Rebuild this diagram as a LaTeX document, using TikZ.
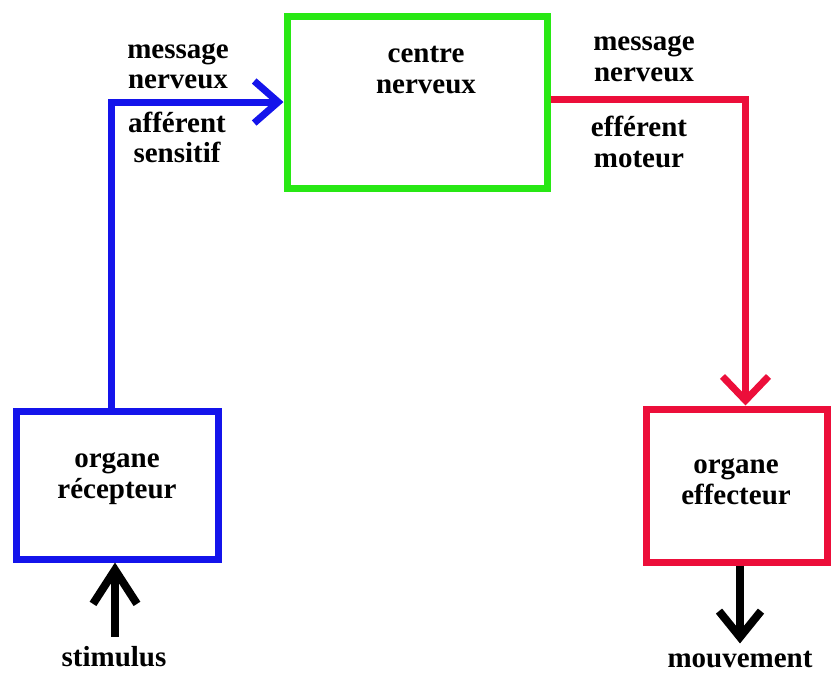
\documentclass[tikz,border=0pt]{standalone}
\usepackage{fontspec}
\setmainfont{Liberation Serif}
\usetikzlibrary{arrows.meta,calc}
\definecolor{figblue}{RGB}{20,20,235}
\definecolor{figgreen}{RGB}{40,232,20}
\definecolor{figred}{RGB}{236,14,58}
\definecolor{figline}{RGB}{0,0,0}
\tikzset{
  organ/.style ={draw, line width=7pt, inner sep=0pt},
  lab/.style   ={font=\bfseries\fontsize{29}{30.5}\selectfont, align=center, inner sep=0pt},
  nerf/.style  ={line width=7pt, line cap=butt},
  barb/.style  ={-{Straight Barb[length=24pt,width=42pt,line cap=butt,line join=miter]}},
  ptr/.style   ={draw=figline, line width=8pt, line cap=butt},
}

\begin{document}
\begin{tikzpicture}[x=1pt,y=-1pt]
  \useasboundingbox (0,0) rectangle (831,675);
  % boxes
  \node[organ,draw=figgreen,minimum width=260pt,minimum height=172pt] (centre) at (417,102) {};
  \node[organ,draw=figblue,minimum width=202pt,minimum height=148pt] (recv) at (117,485) {};
  \node[organ,draw=figred,minimum width=181pt,minimum height=153pt] (effect) at (736.5,485.5) {};
  \node[lab] (centretxt) at (426,70) {centre\\nerveux};
  \node[lab] (recvtxt) at (117,478.5) {organe\\récepteur};
  \node[lab] (effecttxt) at (736,481.5) {organe\\effecteur};
  % labels of the nerve paths
  \node[lab] (msgin) at (178,66) {message\\nerveux};
  \node[lab] (afferent) at (177,137.5) {afférent\\sensitif};
  \node[lab] (msgout) at (644,58.5) {message\\nerveux};
  \node[lab] (efferent) at (639,142) {efférent\\moteur};
  \node[lab] (stim) at (114,657) {stimulus};
  \node[lab] (mouv) at (740,660) {mouvement};
  % nerve paths
  \draw[nerf,figblue,barb] ([xshift=-6pt]recv.north) |- (centre.west);
  \draw[nerf,figred,-{Straight Barb[length=24pt,width=46pt,line cap=butt,line join=miter]}] ([yshift=3pt]centre.east) -| ([xshift=9pt]effect.north);
  % stimulus and response
  \draw[ptr,-{Straight Barb[length=34pt,width=44pt,line cap=butt,line join=miter]},shorten <=10pt] ([xshift=-2pt]stim.north -| recv.south) -- ([xshift=-2pt]recv.south);
  \draw[ptr,-{Straight Barb[length=26pt,width=42pt,line cap=butt,line join=miter]},shorten >=8pt] ([xshift=3.5pt]effect.south) -- ([xshift=3.5pt]effect.south |- mouv.north);
\end{tikzpicture}
\end{document}
